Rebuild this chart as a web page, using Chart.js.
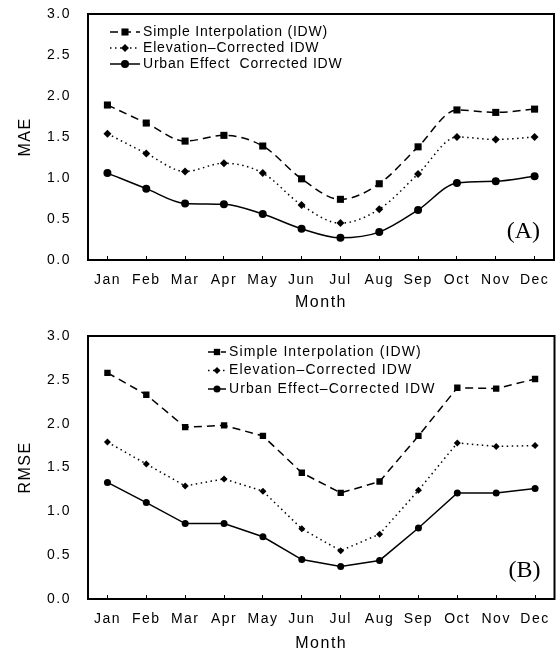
<!DOCTYPE html>
<html>
<head>
<meta charset="utf-8">
<script src="https://cdn.jsdelivr.net/npm/chart.js@4.4.0/dist/chart.umd.min.js"></script>
<style>
  body { margin: 0; background: #fff; width: 559px; height: 652px; position: relative; overflow: hidden; }
  canvas { position: absolute; left: 0; }
  #maeChart { top: 0; }
  #rmseChart { top: 326px; }
</style>
</head>
<body>
<canvas id="maeChart" width="559" height="326"></canvas>
<canvas id="rmseChart" width="559" height="330"></canvas>
<script>
var months = ['Jan', 'Feb', 'Mar', 'Apr', 'May', 'Jun', 'Jul', 'Aug', 'Sep', 'Oct', 'Nov', 'Dec'];
var yTicks = [0, 0.5, 1.0, 1.5, 2.0, 2.5, 3.0];

// (A) MAE
var maeSimple    = [1.89, 1.67, 1.45, 1.52, 1.39, 0.99, 0.74, 0.93, 1.38, 1.83, 1.80, 1.84];
var maeElevation = [1.54, 1.30, 1.08, 1.18, 1.06, 0.67, 0.45, 0.62, 1.05, 1.50, 1.47, 1.50];
var maeUrban     = [1.06, 0.87, 0.69, 0.68, 0.56, 0.38, 0.27, 0.34, 0.61, 0.94, 0.96, 1.02];
var maeLabels = ['Simple Interpolation (IDW)', 'Elevation\u2013Corrected IDW', 'Urban Effect  Corrected IDW'];

// (B) RMSE
var rmseSimple    = [2.58, 2.33, 1.96, 1.98, 1.86, 1.44, 1.21, 1.34, 1.86, 2.41, 2.40, 2.51];
var rmseElevation = [1.79, 1.54, 1.29, 1.37, 1.23, 0.80, 0.55, 0.74, 1.24, 1.78, 1.74, 1.75];
var rmseUrban     = [1.33, 1.10, 0.86, 0.86, 0.71, 0.45, 0.37, 0.44, 0.81, 1.21, 1.21, 1.26];
var rmseLabels = ['Simple Interpolation (IDW)', 'Elevation\u2013Corrected IDW', 'Urban Effect\u2013Corrected IDW'];

var sansFont = '"Liberation Sans", Arial, sans-serif';

// spacing a bit wider like the scanned figure
var spacingPlugin = {
    id: 'spacing',
    beforeLayout: function (chart) { chart.ctx.letterSpacing = '1.5px'; },
    beforeDraw: function (chart) { chart.ctx.letterSpacing = '1.5px'; }
};

function drawMarker(ctx, style, r, x, y) {
    ctx.beginPath();
    if (style === 'rect') {
        var s = r * Math.SQRT1_2;
        ctx.rect(x - s, y - s, 2 * s, 2 * s);
    } else if (style === 'rectRot') {
        ctx.moveTo(x, y - r); ctx.lineTo(x + r, y); ctx.lineTo(x, y + r); ctx.lineTo(x - r, y);
        ctx.closePath();
    } else {
        ctx.arc(x, y, r, 0, Math.PI * 2);
    }
    ctx.fill();
}

// box, legend inside the plot and the panel letter
var framePlugin = {
    id: 'frame',
    afterDraw: function (chart) {
        var ctx = chart.ctx, a = chart.chartArea;
        var o = chart.options.plugins.frame;
        ctx.save();
        ctx.strokeStyle = '#000';
        ctx.lineWidth = 2;
        ctx.strokeRect(a.left, a.top, a.right - a.left, a.bottom - a.top);

        ctx.letterSpacing = o.legendSpacing;
        ctx.font = '14px ' + sansFont;
        ctx.textBaseline = 'middle';
        ctx.textAlign = 'left';
        chart.data.datasets.forEach(function (ds, i) {
            var y = o.legendY + i * o.rowH;
            ctx.strokeStyle = '#000';
            ctx.fillStyle = '#000';
            ctx.lineWidth = ds.borderWidth;
            ctx.setLineDash(ds.borderDash || []);
            ctx.beginPath();
            ctx.moveTo(o.legendX, y);
            ctx.lineTo(o.legendX + o.lineLen, y);
            ctx.stroke();
            ctx.setLineDash([]);
            drawMarker(ctx, ds.pointStyle, ds.pointRadius, o.legendX + o.lineLen / 2, y);
            ctx.fillText(ds.label, o.legendX + o.lineLen + 3, y);
        });

        ctx.letterSpacing = '0px';
        ctx.font = '24px "Liberation Serif", "Times New Roman", serif';
        ctx.textAlign = 'right';
        ctx.fillText(o.tag, a.right - 14, a.bottom - 28);
        ctx.restore();
    }
};

function makeChart(id, yTitle, series, labels, cfg) {
    var styles = [
        { dash: [8, 5], point: 'rect', r: cfg.rectR },
        { dash: [1.5, 3.5], point: 'rectRot', r: cfg.dotR },
        { dash: [], point: 'circle', r: cfg.dotR }
    ];
    var datasets = series.map(function (vals, i) {
        var ds = {
            label: labels[i],
            data: vals,
            borderColor: '#000',
            backgroundColor: '#000',
            borderWidth: 1.5,
            borderDash: styles[i].dash,
            pointStyle: styles[i].point,
            pointRadius: styles[i].r,
            pointBorderWidth: 0,
            tension: 0
        };
        if (cfg.smooth) ds.cubicInterpolationMode = 'monotone';
        return ds;
    });

    new Chart(document.getElementById(id).getContext('2d'), {
        type: 'line',
        data: { labels: months, datasets: datasets },
        plugins: [spacingPlugin, framePlugin],
        options: {
            responsive: false,
            animation: false,
            layout: { padding: { top: cfg.padTop, right: 2, left: 0, bottom: 0 } },
            plugins: {
                legend: { display: false },
                tooltip: { enabled: false },
                frame: {
                    legendX: cfg.legendX, legendY: cfg.legendY, rowH: cfg.rowH, lineLen: cfg.lineLen,
                    legendSpacing: cfg.legendSpacing, tag: cfg.tag
                }
            },
            scales: {
                x: {
                    offset: true,
                    grid: { display: true, drawOnChartArea: false, drawTicks: true, tickLength: -4, color: '#000', lineWidth: 1 },
                    border: { display: false },
                    ticks: { color: '#000', font: { family: sansFont, size: 14 }, padding: cfg.xTickPad, maxRotation: 0 },
                    title: { display: true, text: 'Month', color: '#000', font: { family: sansFont, size: 16 }, padding: { top: 0, bottom: cfg.titlePad } },
                    afterFit: function (s) { s.height = cfg.xHeight; s.paddingLeft = 0; s.paddingRight = 0; }
                },
                y: {
                    min: 0,
                    max: 3,
                    afterBuildTicks: function (s) { s.ticks = yTicks.map(function (v) { return { value: v }; }); },
                    grid: { display: false },
                    border: { display: false },
                    ticks: {
                        color: '#000',
                        font: { family: sansFont, size: 14 },
                        padding: 9,
                        callback: function (v) { return Number(v).toFixed(1); }
                    },
                    title: { display: true, text: yTitle, color: '#000', font: { family: sansFont, size: 16 }, padding: { top: 16, bottom: 0 } },
                    afterFit: function (s) { s.width = 88; s.paddingTop = 0; s.paddingBottom = 0; }
                }
            }
        }
    });
}

makeChart('maeChart', 'MAE', [maeSimple, maeElevation, maeUrban], maeLabels, {
    padTop: 14, xHeight: 66, xTickPad: 16, titlePad: 14, smooth: true,
    legendX: 110, legendY: 32, rowH: 16, lineLen: 30, legendSpacing: '0.8px', tag: '(A)',
    rectR: 5, dotR: 4
});

makeChart('rmseChart', 'RMSE', [rmseSimple, rmseElevation, rmseUrban], rmseLabels, {
    padTop: 10, xHeight: 57, xTickPad: 16, titlePad: 3, smooth: false,
    legendX: 208, legendY: 26, rowH: 18.5, lineLen: 18, legendSpacing: '1.1px', tag: '(B)',
    rectR: 4.5, dotR: 3.5
});
</script>
</body>
</html>
